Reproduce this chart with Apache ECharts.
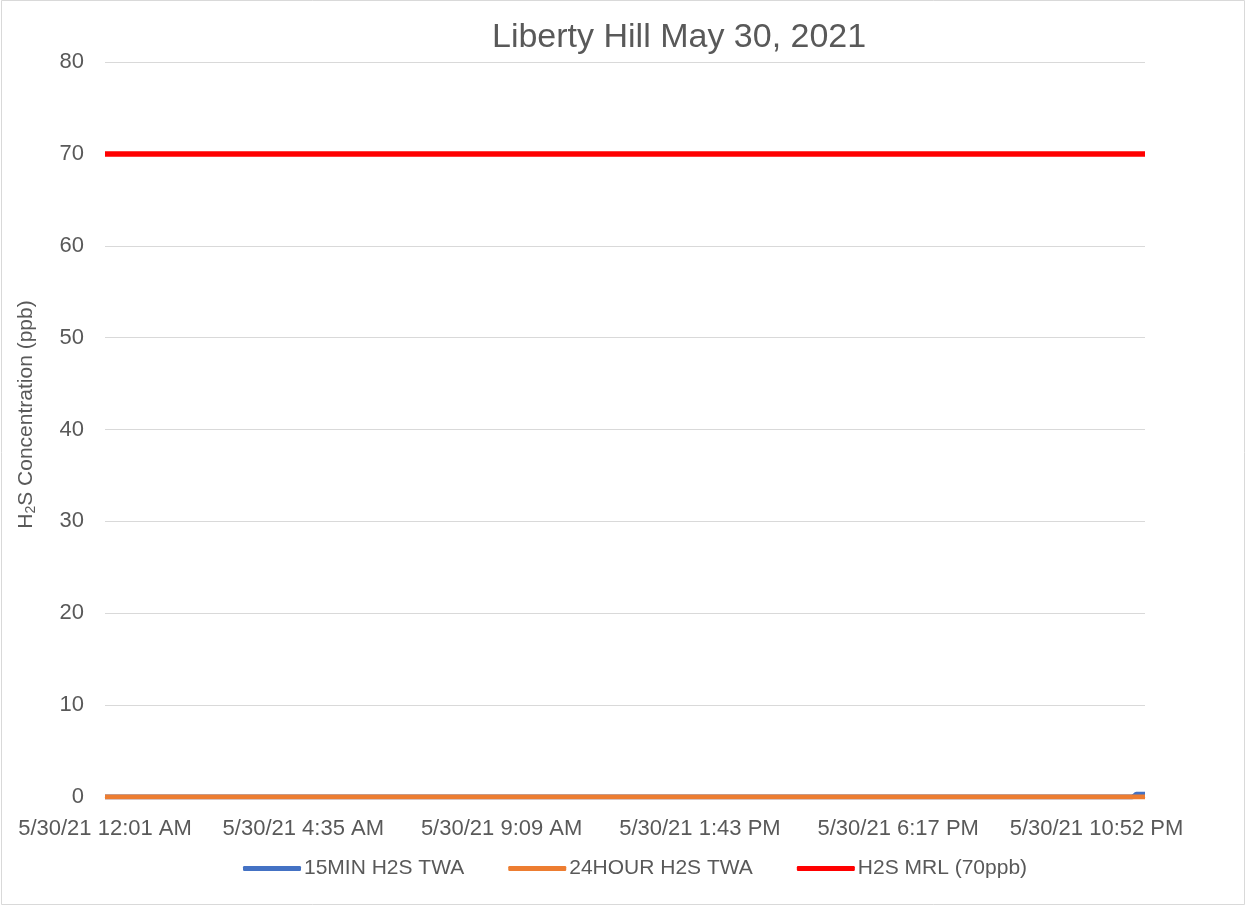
<!DOCTYPE html>
<html>
<head>
<meta charset="utf-8">
<script src="https://cdn.jsdelivr.net/npm/echarts@6/dist/echarts.min.js"></script>
<style>
  html, body { margin: 0; padding: 0; background: #fff; }
  #chart { width: 1247px; height: 907px; }
</style>
</head>
<body>
<div id="chart"></div>
<script>
// ---- Data ----
const chartTitle = "Liberty Hill May 30, 2021";
const datePrefix = "5/30/21";
const firstMinute = 1;        // 12:01 AM
const lastMinute = 1439;      // 11:59 PM
const missingMinute = 1200;   // one reading absent between 6:17 PM and 10:52 PM
const seriesNames = ["15MIN H2S TWA", "24HOUR H2S TWA", "H2S MRL (70ppb)"];
// values as [count, value] runs
const min15Runs = [[1422, 0], [1, 0.1], [1, 0.2], [14, 0.3]];
const hour24Runs = [[1438, 0]];
const mrlRuns = [[1438, 70]];
const yTicks = [0, 10, 20, 30, 40, 50, 60, 70, 80];
const xLabelEvery = 274;

// ---- Build categories ----
function fmtTime(m) {
  const h = Math.floor(m / 60), mm = m % 60;
  const ap = h < 12 ? "AM" : "PM";
  let h12 = h % 12; if (h12 === 0) h12 = 12;
  return datePrefix + " " + h12 + ":" + String(mm).padStart(2, "0") + " " + ap;
}
const categories = [];
for (let m = firstMinute; m <= lastMinute; m++) {
  if (m === missingMinute) continue;
  categories.push(fmtTime(m));
}
function expand(runs) {
  const out = [];
  runs.forEach(([n, v]) => { for (let i = 0; i < n; i++) out.push(v); });
  return out;
}
const min15 = expand(min15Runs);
const hour24 = expand(hour24Runs);
const mrl = expand(mrlRuns);

const FONT = "Liberation Sans";
const TXT = "#595959";

const chart = echarts.init(document.getElementById("chart"));
chart.setOption({
  animation: false,
  backgroundColor: "#ffffff",
  title: {
    text: chartTitle,
    left: 487,
    top: 16,
    textStyle: { fontFamily: FONT, fontSize: 34, fontWeight: "normal", color: TXT }
  },
  graphic: [{
    type: "rect",
    shape: { x: 1.5, y: 0.5, width: 1243, height: 904 },
    style: { fill: "none", stroke: "#d9d9d9", lineWidth: 1 },
    silent: true
  }],
  legend: {
    bottom: 23,
    left: 238,
    itemWidth: 58,
    itemHeight: 5,
    itemGap: 44,
    icon: "roundRect",
    textStyle: { fontFamily: FONT, fontSize: 21, color: TXT, padding: [0, 0, 0, -2] },
    data: seriesNames
  },
  grid: { left: 105, right: 102, top: 62, bottom: 110, containLabel: false },
  xAxis: {
    type: "category",
    data: categories,
    boundaryGap: false,
    axisLine: { show: true, lineStyle: { color: "#d9d9d9", width: 1 } },
    axisTick: { show: false },
    splitLine: { show: false },
    axisLabel: {
      interval: xLabelEvery - 1,
      margin: 21,
      fontFamily: FONT, fontSize: 22, color: TXT
    }
  },
  yAxis: {
    type: "value",
    min: yTicks[0],
    max: yTicks[yTicks.length - 1],
    interval: yTicks[1] - yTicks[0],
    axisLine: { show: false },
    axisTick: { show: false },
    splitLine: { lineStyle: { color: "#d9d9d9", width: 1 } },
    axisLabel: { margin: 21, fontFamily: FONT, fontSize: 22, color: TXT },
    name: "{a|H}{s|2}{a|S Concentration (ppb)}",
    nameLocation: "middle",
    nameRotate: 90,
    nameGap: 66,
    nameTextStyle: {
      padding: [0, 0, 0, 30],
      rich: {
        a: { fontFamily: FONT, fontSize: 21, color: TXT, lineHeight: 26 },
        s: { fontFamily: FONT, fontSize: 14, color: TXT, lineHeight: 26, padding: [10, 0, 0, 0] }
      }
    }
  },
  series: [
    { name: seriesNames[0], type: "line", data: min15, symbol: "none",
      lineStyle: { color: "#4472C4", width: 5 }, itemStyle: { color: "#4472C4" } },
    { name: seriesNames[1], type: "line", data: hour24, symbol: "none",
      lineStyle: { color: "#ED7D31", width: 5 }, itemStyle: { color: "#ED7D31" } },
    { name: seriesNames[2], type: "line", data: mrl, symbol: "none",
      lineStyle: { color: "#FF0000", width: 5.5 }, itemStyle: { color: "#FF0000" } }
  ]
});
</script>
</body>
</html>
